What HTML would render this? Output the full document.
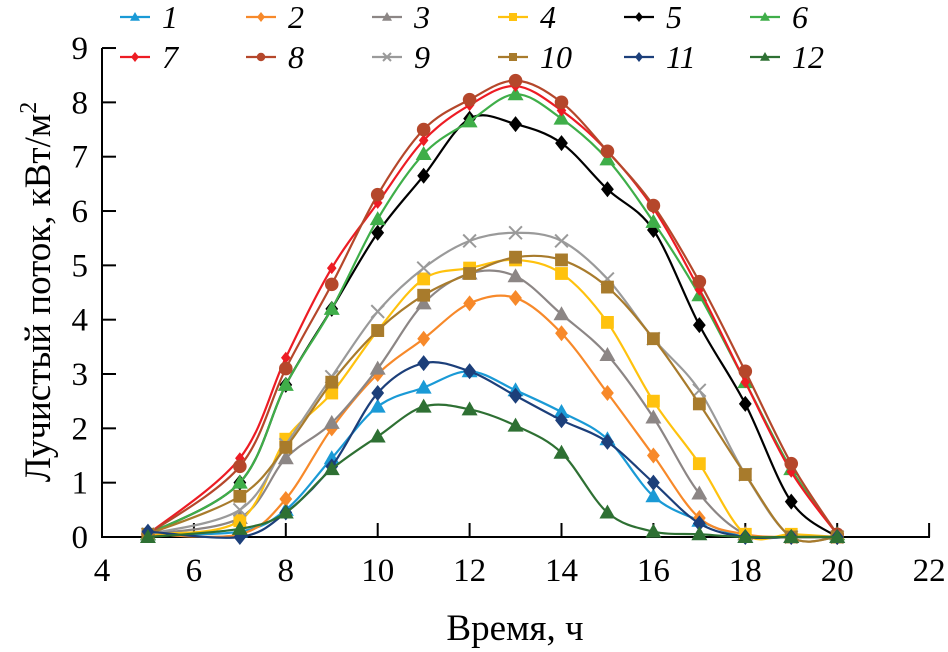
<!DOCTYPE html>
<html><head><meta charset="utf-8"><style>
html,body{margin:0;padding:0;background:#fff;}
svg{display:block;}
text{font-family:"Liberation Serif","DejaVu Serif",serif;}
</style></head><body>
<svg id="chart" width="948" height="652">
<g id="axes"></g>
<g id="series"></g>
<g id="legend"></g>
<text x="515" y="640" font-size="37" text-anchor="middle">Время, ч</text>
<text transform="translate(50,292) rotate(-90)" font-size="37" text-anchor="middle">Лучистый поток, кВт/м<tspan dy="-14" font-size="24">2</tspan></text>
</svg>
<script>
const hours=[5,7,8,9,10,11,12,13,14,15,16,17,18,19,20];
const xTicks=[4,6,8,10,12,14,16,18,20,22];
const yTicks=[0,1,2,3,4,5,6,7,8,9];
const seriesNames=["1","2","3","4","5","6","7","8","9","10","11","12"];
const s1=[0.05,0.1,0.5,1.45,2.4,2.75,3.05,2.7,2.3,1.8,0.75,0.3,0,0,0];
const s2=[0.05,0.05,0.7,2.0,3.0,3.65,4.3,4.4,3.75,2.65,1.5,0.35,0.05,0,0];
const s3=[0.05,0.35,1.45,2.1,3.1,4.3,4.85,4.8,4.1,3.35,2.2,0.8,0.05,0,0];
const s4=[0.05,0.3,1.8,2.65,3.8,4.75,4.95,5.1,4.85,3.95,2.5,1.35,0.05,0.05,0];
const s5=[0.05,1.0,2.8,4.2,5.6,6.65,7.7,7.6,7.25,6.4,5.65,3.9,2.45,0.65,0];
const s6=[0.05,1.0,2.8,4.2,5.85,7.05,7.65,8.15,7.7,6.95,5.8,4.45,2.85,1.25,0.05];
const s7=[0.05,1.45,3.3,4.95,6.15,7.3,7.95,8.3,7.85,7.1,6.05,4.55,2.85,1.2,0.05];
const s8=[0.05,1.3,3.1,4.65,6.3,7.5,8.05,8.4,8.0,7.1,6.1,4.7,3.05,1.35,0.05];
const s9=[0.05,0.5,1.7,2.95,4.15,4.95,5.45,5.6,5.45,4.75,3.65,2.7,1.15,0,0];
const s10=[0.05,0.75,1.65,2.85,3.8,4.45,4.85,5.15,5.1,4.6,3.65,2.45,1.15,0,0];
const s11=[0.1,0,0.45,1.3,2.65,3.2,3.05,2.6,2.15,1.75,1.0,0.25,0,0,0];
const s12=[0,0.15,0.45,1.25,1.85,2.4,2.35,2.05,1.55,0.45,0.1,0.05,0,0,0];
const allSeries=[s1,s2,s3,s4,s5,s6,s7,s8,s9,s10,s11,s12];
const colors=["#1a9ad6","#f7892a","#8c8685","#ffc20e","#000000","#3fae49","#ed1c24","#b5472b","#9a9a9a","#a87b2c","#1c3f7a","#2e7033"];
const markers=["tri","dia","tri","sq","dia","tri","dia","circ","x","sq","dia","tri"];
const NS="http://www.w3.org/2000/svg";
const X=v=>102+(v-4)*45.95;
const Y=v=>537-v*54.33;
function mk(t,a,p){const e=document.createElementNS(NS,t);for(const k in a)e.setAttribute(k,a[k]);p.appendChild(e);return e;}
const ax=document.getElementById('axes');
let l=mk('line',{x1:102,y1:48,x2:102,y2:538,stroke:'#000','stroke-width':2},ax);


l=mk('line',{x1:101,y1:537,x2:930,y2:537,stroke:'#000','stroke-width':2},ax);


xTicks.forEach(v=>{
 const t=mk('line',{x1:X(v),y1:537,x2:X(v),y2:523,stroke:'#000','stroke-width':2},ax);
 
 
 const tx=mk('text',{x:X(v),y:581,'font-size':33,'text-anchor':'middle'},ax);tx.textContent=v;
 
 
});
yTicks.forEach(v=>{
 const t=mk('line',{x1:102,y1:Y(v),x2:116,y2:Y(v),stroke:'#000','stroke-width':2},ax);
 
 
 const tx=mk('text',{x:88,y:Y(v)+11,'font-size':33,'text-anchor':'end'},ax);tx.textContent=v;
 
 
});
function marker(type,cx,cy,c,s,p){
 let e;
 if(type==='tri')e=mk('polygon',{points:`${cx},${cy-s} ${cx-s},${cy+s*0.75} ${cx+s},${cy+s*0.75}`,fill:c},p);
 else if(type==='dia')e=mk('polygon',{points:`${cx},${cy-s} ${cx+s*0.8},${cy} ${cx},${cy+s} ${cx-s*0.8},${cy}`,fill:c},p);
 else if(type==='sq')e=mk('rect',{x:cx-s*0.8,y:cy-s*0.8,width:s*1.6,height:s*1.6,fill:c},p);
 else if(type==='circ')e=mk('circle',{cx:cx,cy:cy,r:s*0.85,fill:c},p);
 else {e=mk('path',{d:`M${cx-s*0.8},${cy-s*0.8}L${cx+s*0.8},${cy+s*0.8}M${cx+s*0.8},${cy-s*0.8}L${cx-s*0.8},${cy+s*0.8}`,stroke:c,'stroke-width':2,fill:'none'},p);}
 return e;
}
function smooth(pts){
 let d=`M${pts[0][0]},${pts[0][1]}`;
 for(let i=0;i<pts.length-1;i++){
  const p0=pts[Math.max(i-1,0)],p1=pts[i],p2=pts[i+1],p3=pts[Math.min(i+2,pts.length-1)];
  const k=1/6;
  d+=`C${p1[0]+(p2[0]-p0[0])*k},${p1[1]+(p2[1]-p0[1])*k} ${p2[0]-(p3[0]-p1[0])*k},${p2[1]-(p3[1]-p1[1])*k} ${p2[0]},${p2[1]}`;
 }
 return d;
}
const sg=document.getElementById('series');
allSeries.forEach((ser,i)=>{
 const g=mk('g',{},sg);
 
 
 const pts=ser.map((v,j)=>[X(hours[j]),Y(v)]);
 const p=mk('path',{d:smooth(pts),fill:'none',stroke:colors[i],'stroke-width':2.2},g);
 
 
 pts.forEach(pt=>{
  const m=marker(markers[i],pt[0],pt[1],colors[i],i===6?6:8,g);
  
  
 });
});
const lg=document.getElementById('legend');
seriesNames.forEach((n,i)=>{
 const col=i%6,row=Math.floor(i/6);
 const x0=120+col*126,y0=17+row*40;
 const g=mk('g',{},lg);
 
 
 mk('line',{x1:x0,y1:y0,x2:x0+30,y2:y0,stroke:colors[i],'stroke-width':2.2},g);
 marker(markers[i],x0+15,y0,colors[i],5,g);
 const t=mk('text',{x:x0+42,y:y0+11,'font-size':32,'font-style':'italic'},g);t.textContent=n;
});
</script>
</body></html>
